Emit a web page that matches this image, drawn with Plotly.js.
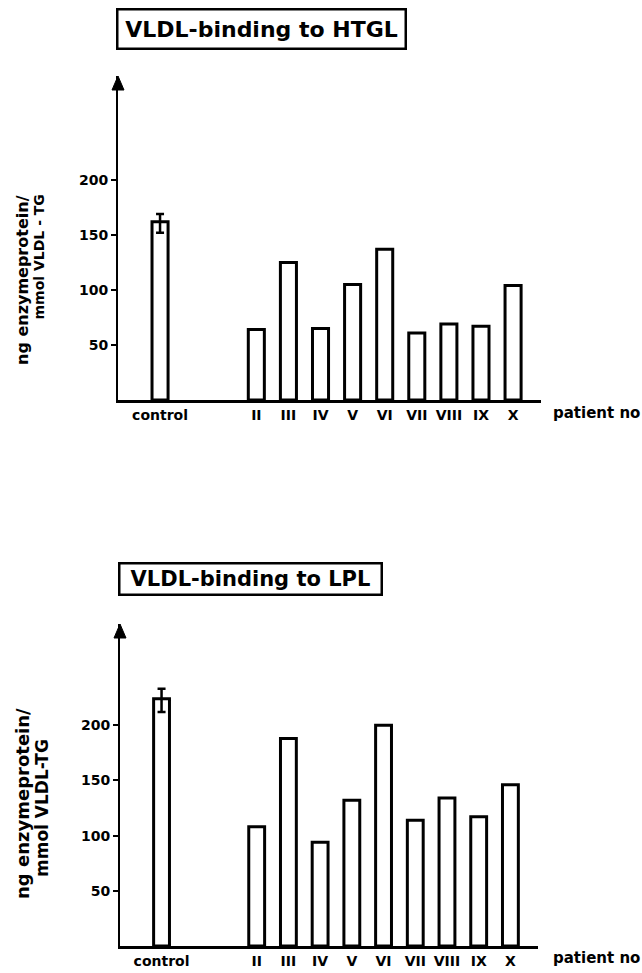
<!DOCTYPE html>
<html>
<head>
<meta charset="utf-8">
<script src="https://cdn.plot.ly/plotly-3.0.1.min.js"></script>
<style>html,body{margin:0;padding:0;background:#fff;}#chart{width:642px;height:973px;}</style>
</head>
<body>
<div id="chart"></div>
<script>
// ---- data ----
const categories = ['control', 'II', 'III', 'IV', 'V', 'VI', 'VII', 'VIII', 'IX', 'X'];
const htglValues = [162, 64, 125, 65, 105, 137, 61, 69, 67, 104];
const htglControlErrPlus = [7];
const htglControlErrMinus = [10];
const lplValues = [224, 108, 188, 94, 132, 200, 114, 134, 117, 146];
const lplControlErrPlus = [9];
const lplControlErrMinus = [12];
const yTickVals = [50, 100, 150, 200];
const titleTop = 'VLDL-binding to HTGL';
const titleBottom = 'VLDL-binding to LPL';
const yTitleTop = ['ng enzymeprotein/', 'mmol VLDL - TG'];
const yTitleBottom = ['ng enzymeprotein/', 'mmol VLDL-TG'];
const xTitle = 'patient no';

// ---- layout helpers ----
const W = 642, H = 973;
const px = v => v / W;
const py = v => (H - v) / H;
// control at slot 0, patients start after a gap
const pos = categories.map((c, i) => i === 0 ? 0 : i + 2);
const FONT = 'DejaVu Sans';

function barTraces(values, ep, em, xa, ya) {
  const common = {
    type: 'bar', xaxis: xa, yaxis: ya, width: 0.5,
    marker: {color: '#ffffff', line: {color: '#000', width: 3}},
    hoverinfo: 'skip', showlegend: false
  };
  return [
    Object.assign({}, common, {
      x: [pos[0]], y: [values[0]],
      error_y: {type: 'data', symmetric: false, array: ep, arrayminus: em,
                color: '#000', thickness: 2.5, width: 4}
    }),
    Object.assign({}, common, {x: pos.slice(1), y: values.slice(1)})
  ];
}

const data = [].concat(
  barTraces(htglValues, htglControlErrPlus, htglControlErrMinus, 'x', 'y'),
  barTraces(lplValues, lplControlErrPlus, lplControlErrMinus, 'x2', 'y2')
);

const topX = [px(118), px(541)], topY = [py(400), py(76)];
const botX = [px(120), px(538)], botY = [py(946), py(624)];
const topYMax = (400 - 76) / 1.1;
const botYMax = (946 - 624) / 1.104;

function xAxis(domain, anchor) {
  return {
    domain: domain, anchor: anchor, range: [-1.31, 11.87],
    showline: true, linecolor: '#000', linewidth: 3, mirror: false,
    showgrid: false, zeroline: false, ticks: '',
    tickmode: 'array', tickvals: pos, ticktext: categories,
    tickfont: {family: FONT, size: 14, color: '#000', weight: 'bold'},
    fixedrange: true
  };
}
function yAxis(domain, anchor, max) {
  return {
    domain: domain, anchor: anchor, range: [0, max],
    showline: true, linecolor: '#000', linewidth: 2,
    showgrid: false, zeroline: false,
    ticks: 'outside', ticklen: 5, tickwidth: 2, tickcolor: '#000',
    tickmode: 'array', tickvals: yTickVals,
    tickfont: {family: FONT, size: 14, color: '#000', weight: 'bold'},
    fixedrange: true
  };
}

function arrowHead(xPaper, yPaper) {
  return {
    type: 'path', xref: 'paper', yref: 'paper',
    xsizemode: 'pixel', ysizemode: 'pixel',
    xanchor: xPaper, yanchor: yPaper,
    path: 'M -6,-14 L 6,-14 L 0,0 Z',
    fillcolor: '#000', line: {color: '#000', width: 1}
  };
}

function titleBox(text, x0, y0, w, h, size) {
  return {
    xref: 'paper', yref: 'paper', x: px(x0), y: py(y0),
    xanchor: 'left', yanchor: 'top', showarrow: false,
    text: text, width: w, height: h, align: 'center', valign: 'middle',
    bordercolor: '#000', borderwidth: 2.5, borderpad: 1, bgcolor: '#fff',
    font: {family: FONT, size: size, color: '#000', weight: 'bold'}
  };
}

function rotLabel(text, xc, y, yanchor, size) {
  return {
    xref: 'paper', yref: 'paper', x: px(xc), y: py(y),
    xanchor: 'center', yanchor: yanchor, showarrow: false,
    textangle: -90, text: text,
    font: {family: FONT, size: size, color: '#000', weight: 'bold'}
  };
}

const layout = {
  width: W, height: H,
  margin: {l: 0, r: 0, t: 0, b: 0},
  paper_bgcolor: '#fff', plot_bgcolor: 'rgba(0,0,0,0)',
  barmode: 'overlay',
  showlegend: false,
  xaxis: xAxis(topX, 'y'),
  yaxis: yAxis(topY, 'x', topYMax),
  xaxis2: xAxis(botX, 'y2'),
  yaxis2: yAxis(botY, 'x2', botYMax),
  shapes: [arrowHead(topX[0], topY[1]), arrowHead(botX[0], botY[1])],
  annotations: [
    titleBox(titleTop, 116, 8, 284, 35, 22),
    titleBox(titleBottom, 118, 562, 258, 27, 21),
    rotLabel(yTitleTop[0], 22, 193, 'top', 16),
    rotLabel(yTitleTop[1], 38, 193, 'top', 14),
    rotLabel(yTitleBottom[0], 22, 804, 'middle', 18),
    rotLabel(yTitleBottom[1], 42, 808, 'middle', 17),
    {xref: 'paper', yref: 'paper', x: px(596), y: py(413), xanchor: 'center', yanchor: 'middle',
     showarrow: false, text: xTitle, font: {family: FONT, size: 15, color: '#000', weight: 'bold'}},
    {xref: 'paper', yref: 'paper', x: px(596), y: py(958), xanchor: 'center', yanchor: 'middle',
     showarrow: false, text: xTitle, font: {family: FONT, size: 15, color: '#000', weight: 'bold'}}
  ]
};

Plotly.newPlot('chart', data, layout, {displayModeBar: false, staticPlot: true});
</script>
</body>
</html>
